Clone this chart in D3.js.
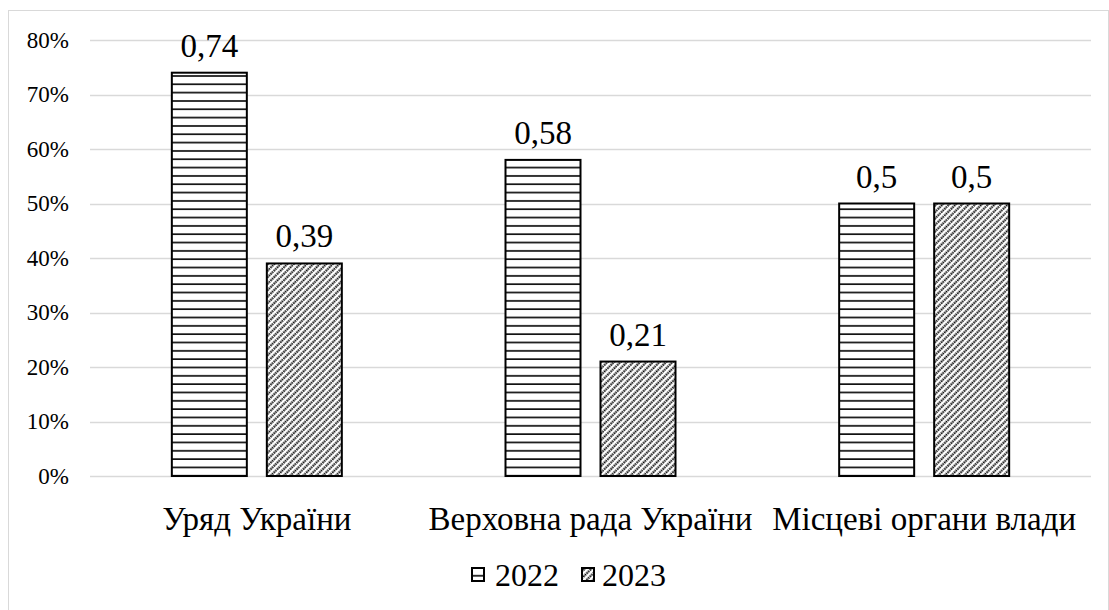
<!DOCTYPE html>
<html><head><meta charset="utf-8"><script src="https://cdn.jsdelivr.net/npm/d3@7"></script></head>
<body style="margin:0;background:#fff">
<svg id="chart" width="1109" height="610" font-family="'Times New Roman', Tinos, 'Liberation Serif', serif"></svg>
<script>
// Share of trust in government bodies, by year
const categories = ["Уряд України", "Верховна рада України", "Місцеві органи влади"];
const years = ["2022", "2023"];
const values2022 = [0.74, 0.58, 0.5];
const values2023 = [0.39, 0.21, 0.5];
const valueLabels2022 = ["0,74", "0,58", "0,5"];
const valueLabels2023 = ["0,39", "0,21", "0,5"];
const yTicks = [0, 0.1, 0.2, 0.3, 0.4, 0.5, 0.6, 0.7, 0.8];

const FONT = "'Times New Roman', Tinos, 'Liberation Serif', serif";
const svg = d3.select("#chart");
const W = 1109, H = 610;
const margin = { left: 90, right: 18, top: 40, bottom: 134 };

// outer frame
svg.append("rect")
  .attr("x", 8.5).attr("y", 10.5)
  .attr("width", W - 9).attr("height", H)
  .attr("fill", "#fff").attr("stroke", "#d9d9d9").attr("stroke-width", 1);

const defs = svg.append("defs");
// horizontal stripes for 2022
const pH = defs.append("pattern")
  .attr("id", "stripes").attr("patternUnits", "userSpaceOnUse")
  .attr("width", 10).attr("height", 8.33);
pH.append("rect").attr("width", 10).attr("height", 8.33).attr("fill", "#fff");
pH.append("line").attr("x1", 0).attr("x2", 10).attr("y1", 1).attr("y2", 1)
  .attr("stroke", "#000").attr("stroke-width", 1.6);

// diagonal hatch for 2023
const pD = defs.append("pattern")
  .attr("id", "hatch").attr("patternUnits", "userSpaceOnUse")
  .attr("width", 4.6).attr("height", 4.6)
  .attr("patternTransform", "rotate(-45)");
pD.append("rect").attr("width", 4.6).attr("height", 4.6).attr("fill", "#fff");
pD.append("line").attr("x1", 0).attr("x2", 4.6).attr("y1", 1.5).attr("y2", 1.5)
  .attr("stroke", "#000").attr("stroke-width", 2).attr("stroke-dasharray", "1.5,0.8");

const x0 = d3.scaleBand().domain(categories)
  .range([margin.left, W - margin.right]).paddingInner(0).paddingOuter(0);
const y = d3.scaleLinear().domain([0, 0.8]).range([H - margin.bottom, margin.top]);

// gridlines
svg.append("g").selectAll("line").data(yTicks).join("line")
  .attr("x1", margin.left).attr("x2", W - margin.right)
  .attr("y1", d => Math.round(y(d)) + 0.5).attr("y2", d => Math.round(y(d)) + 0.5)
  .attr("stroke", "#d9d9d9").attr("stroke-width", 1.5);

// y axis labels at the scale's tick positions
svg.append("g").selectAll("text").data(yTicks).join("text")
  .attr("x", margin.left - 21).attr("y", d => y(d)).attr("dy", "0.34em")
  .attr("text-anchor", "end").attr("font-size", 23).attr("fill", "#000")
  .attr("font-family", FONT).style("font-family", FONT)
  .text(d => Math.round(d * 100) + "%");

const barW = 75, gap = 20;
const x1 = d3.scaleBand().domain(years).range([0, 2 * barW + gap])
  .paddingInner(gap / (barW + gap)).paddingOuter(0);

const series = [
  { year: "2022", vals: values2022, labels: valueLabels2022, fill: "url(#stripes)" },
  { year: "2023", vals: values2023, labels: valueLabels2023, fill: "url(#hatch)" }
];

const groups = svg.append("g").selectAll("g").data(categories).join("g")
  .attr("transform", c => `translate(${x0(c) + x0.bandwidth() / 2 - (2 * barW + gap) / 2},0)`);

series.forEach(s => {
  groups.append("rect")
    .attr("x", (c, i) => x1(s.year))
    .attr("y", (c, i) => y(s.vals[i]))
    .attr("width", x1.bandwidth())
    .attr("height", (c, i) => y(0) - y(s.vals[i]))
    .attr("fill", s.fill)
    .attr("stroke", "#000").attr("stroke-width", 2);
  groups.append("text")
    .attr("x", x1(s.year) + x1.bandwidth() / 2)
    .attr("y", (c, i) => y(s.vals[i]) - 16)
    .attr("text-anchor", "middle").attr("fill", "#000").attr("font-size", 33)
    .attr("font-family", FONT).style("font-family", FONT)
    .text((c, i) => s.labels[i]);
});

// category labels
svg.append("g").selectAll("text").data(categories).join("text")
  .attr("x", c => x0(c) + x0.bandwidth() / 2).attr("y", y(0) + 54)
  .attr("text-anchor", "middle").attr("fill", "#000").attr("font-size", 33)
  .attr("font-family", FONT).style("font-family", FONT)
  .text(c => c);

// legend
const legItems = [
  { year: "2022", fill: "url(#stripes)", x: 472, tx: 495 },
  { year: "2023", fill: "url(#hatch)", x: 582, tx: 602 }
];
const legend = svg.append("g");
legItems.forEach(li => {
  legend.append("rect").attr("x", li.x).attr("y", 568).attr("width", 12).attr("height", 13)
    .attr("fill", li.fill).attr("stroke", "#000").attr("stroke-width", 2);
  legend.append("text").attr("x", li.tx).attr("y", 586).attr("fill", "#000").attr("font-size", 32)
    .attr("font-family", FONT).style("font-family", FONT).text(li.year);
});
</script>
</body></html>
